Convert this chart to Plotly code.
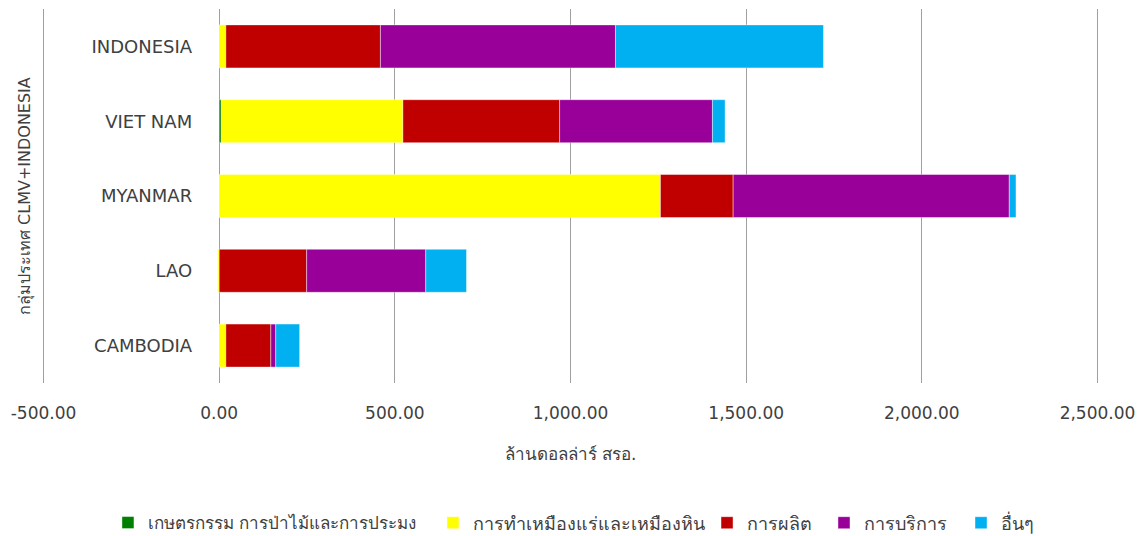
import plotly.graph_objects as go

# Countries, bottom to top on the category axis
countries = ["CAMBODIA", "LAO", "MYANMAR", "VIET NAM", "INDONESIA"]

# Investment by sector (million USD)
agriculture = [0, 0, 0, 6, 0]
mining = [19, -4, 1256, 517, 19]
manufacturing = [128, 249, 207, 446, 440]
services = [14, 339, 786, 435, 669]
others = [68, 116, 19, 36, 592]

sector_names = [
    "เกษตรกรรม การป่าไม้และการประมง",
    "การทำเหมืองแร่และเหมืองหิน",
    "การผลิต",
    "การบริการ",
    "อื่นๆ",
]
sector_values = [agriculture, mining, manufacturing, services, others]
sector_colors = ["#008000", "#FFFF00", "#C00000", "#990099", "#00B0F0"]

x_ticks = [-500, 0, 500, 1000, 1500, 2000, 2500]
x_tick_labels = ["-500.00", "0.00", "500.00", "1,000.00", "1,500.00", "2,000.00", "2,500.00"]

FONT = "Tahoma, 'DejaVu Sans', 'Noto Sans', sans-serif"
TEXT = "#404040"

# one legend box per sector so the entries can be spaced out along the bottom
legend_ids = ["legend", "legend2", "legend3", "legend4", "legend5"]
legend_x = [0.0947, 0.3798, 0.6202, 0.7228, 0.8430]
legend_sizes = [17, 18, 18, 18, 18]

fig = go.Figure()
for name, vals, color, lid in zip(sector_names, sector_values, sector_colors, legend_ids):
    fig.add_trace(go.Bar(
        y=countries,
        x=vals,
        name=name,
        orientation="h",
        legend=lid,
        showlegend=True,
        marker=dict(color=color, line=dict(color="rgba(255,255,255,0.7)", width=0.6)),
    ))

# a little padding beyond the outer ticks keeps their grid lines visible
x_min, x_max = -510, 2510
layout_legends = {}
for lid, lx, fs in zip(legend_ids, legend_x, legend_sizes):
    layout_legends[lid] = dict(
        orientation="h",
        xref="container",
        yref="container",
        x=lx,
        xanchor="left",
        y=1 - 523 / 536,
        yanchor="middle",
        font=dict(size=fs, color=TEXT),
        bgcolor="rgba(0,0,0,0)",
        visible=True,
    )

fig.update_layout(
    width=1140,
    height=536,
    showlegend=True,
    barmode="relative",
    bargap=0.425,
    plot_bgcolor="white",
    paper_bgcolor="white",
    font=dict(family=FONT, size=16, color=TEXT),
    margin=dict(l=40, r=39, t=9, b=153, autoexpand=False),
    xaxis=dict(
        range=[x_min, x_max],
        tickvals=x_ticks,
        ticktext=x_tick_labels,
        tickfont=dict(size=17, color=TEXT),
        showgrid=True,
        gridcolor="#A0A0A0",
        gridwidth=1,
        zeroline=False,
        showline=False,
        ticks="",
        ticklabelstandoff=18,
        automargin=False,
        title=dict(text="ล้านดอลล่าร์ สรอ.", font=dict(size=17, color=TEXT), standoff=26),
        domain=[0, 1],
    ),
    yaxis=dict(
        anchor="free",
        position=(0 - x_min) / (x_max - x_min),
        showgrid=False,
        zeroline=False,
        showline=False,
        ticks="",
        ticklabelstandoff=27,
        automargin=False,
        tickfont=dict(size=18, color=TEXT),
    ),
    annotations=[
        dict(
            text="กลุ่มประเทศ CLMV+INDONESIA",
            xref="paper", yref="paper",
            x=-0.0141, y=0.5,
            textangle=-90,
            showarrow=False,
            font=dict(size=16, color=TEXT),
            xanchor="center", yanchor="middle",
        )
    ],
    **layout_legends,
)

fig.write_html("out.html")
